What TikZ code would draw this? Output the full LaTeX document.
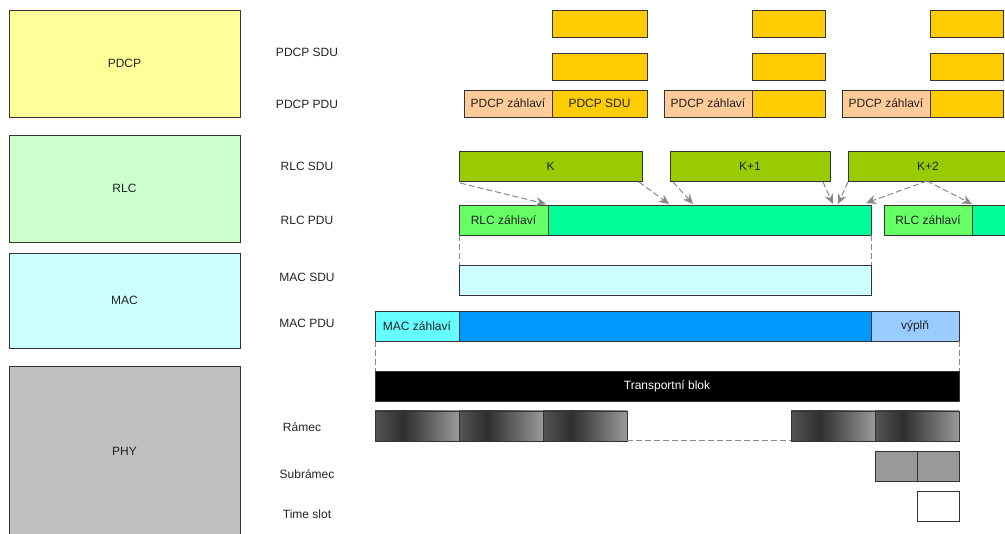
\documentclass[tikz,border=0pt]{standalone}
\usepackage{fontspec}
\setmainfont{Liberation Sans}
\usetikzlibrary{arrows.meta}
\definecolor{cpdcp}{HTML}{FFFF99}
\definecolor{crlc}{HTML}{CCFFCC}
\definecolor{cmac}{HTML}{CCFFFF}
\definecolor{cphy}{HTML}{C0C0C0}
\definecolor{corange}{HTML}{FFCC00}
\definecolor{cpeach}{HTML}{FFCC99}
\definecolor{cgreen}{HTML}{99CC00}
\definecolor{clgreen}{HTML}{66FF66}
\definecolor{cmint}{HTML}{00FF99}
\definecolor{ccyan}{HTML}{66FFFF}
\definecolor{cblue}{HTML}{0099FF}
\definecolor{clblue}{HTML}{99CCFF}
\definecolor{csub}{HTML}{999999}
\definecolor{cborder}{HTML}{333333}
\definecolor{ctext}{HTML}{222222}
\definecolor{cdash}{HTML}{888888}
\definecolor{gA}{HTML}{555555}
\definecolor{gB}{HTML}{2E2E2E}
\definecolor{gC}{HTML}{9A9A9A}
\pgfdeclarehorizontalshading{ramec}{100bp}{color(0bp)=(gA); color(25bp)=(gA); color(42bp)=(gB); color(75bp)=(gC); color(100bp)=(gC)}
\tikzset{
  box/.style={draw=cborder, line width=0.8pt, anchor=north west, inner sep=0pt, outer sep=0pt, text=ctext, font=\fontsize{12}{14}\selectfont},
  lbl/.style={text=ctext, font=\fontsize{12}{14}\selectfont, inner sep=0pt},
  dsh/.style={draw=cdash, line width=1pt, dash pattern=on 6pt off 3pt},
  darr/.style={dsh, -{Stealth[length=10pt,width=9pt]}, shorten >=0pt},
  fr/.style={box, shading=ramec, minimum width=84pt, minimum height=30pt}
}
\begin{document}
\begin{tikzpicture}[x=1pt,y=-1pt]
\useasboundingbox (0,0) rectangle (1005,534);
% layer boxes
\node[box, fill=cpdcp, minimum width=231pt, minimum height=107pt] (lpdcp) at (9,10) {PDCP};
\node[box, fill=crlc, minimum width=231pt, minimum height=107pt] (lrlc) at (9,135) {RLC};
\node[box, fill=cmac, minimum width=231pt, minimum height=95pt] (lmac) at (9,253) {MAC};
\node[box, fill=cphy, minimum width=231pt, minimum height=170pt] (lphy) at (9,366) {PHY};
% row labels
\node[lbl] (t1) at (307,52) {PDCP SDU};
\node[lbl] (t2) at (307,104) {PDCP PDU};
\node[lbl] (t3) at (307,166) {RLC SDU};
\node[lbl] (t4) at (307,220) {RLC PDU};
\node[lbl] (t5) at (307,277) {MAC SDU};
\node[lbl] (t6) at (307,323) {MAC PDU};
\node[lbl] (t7) at (302,427) {Rámec};
\node[lbl] (t8) at (307,474) {Subrámec};
\node[lbl] (t9) at (307,514) {Time slot};
% PDCP rows
\node[box, fill=corange, minimum width=95pt, minimum height=27pt] (a1) at (552,10) {};
\node[box, fill=corange, minimum width=73pt, minimum height=27pt] (a2) at (752,10) {};
\node[box, fill=corange, minimum width=73pt, minimum height=27pt] (a3) at (930,10) {};
\node[box, fill=corange, minimum width=95pt, minimum height=27pt] (b1) at (552,53) {};
\node[box, fill=corange, minimum width=73pt, minimum height=27pt] (b2) at (752,53) {};
\node[box, fill=corange, minimum width=73pt, minimum height=27pt] (b3) at (930,53) {};
\node[box, fill=cpeach, minimum width=88pt, minimum height=27pt] (h1) at (464,90) {PDCP záhlaví};
\node[box, fill=corange, minimum width=95pt, minimum height=27pt] (c1) at (552,90) {PDCP SDU};
\node[box, fill=cpeach, minimum width=88pt, minimum height=27pt] (h2) at (664,90) {PDCP záhlaví};
\node[box, fill=corange, minimum width=73pt, minimum height=27pt] (c2) at (752,90) {};
\node[box, fill=cpeach, minimum width=88pt, minimum height=27pt] (h3) at (842,90) {PDCP záhlaví};
\node[box, fill=corange, minimum width=73pt, minimum height=27pt] (c3) at (930,90) {};
% RLC SDU
\node[box, fill=cgreen, minimum width=183pt, minimum height=30pt] (k0) at (459,151) {K};
\node[box, fill=cgreen, minimum width=160pt, minimum height=30pt] (k1) at (670,151) {K+1};
\node[box, fill=cgreen, minimum width=160pt, minimum height=30pt] (k2) at (848,151) {K+2};
% RLC PDU
\node[box, fill=clgreen, minimum width=89pt, minimum height=30pt] (rh1) at (459,205) {RLC záhlaví};
\node[box, fill=cmint, minimum width=323pt, minimum height=30pt] (rb1) at (548,205) {};
\node[box, fill=clgreen, minimum width=88pt, minimum height=30pt] (rh2) at (884,205) {RLC záhlaví};
\node[box, fill=cmint, minimum width=40pt, minimum height=30pt] (rb2) at (972,205) {};
% arrows
\coordinate (e1) at (546,204);
\coordinate (e2) at (669,204);
\coordinate (e3) at (693,204);
\coordinate (e4) at (833,204);
\coordinate (e5) at (838,204);
\coordinate (e6) at (866,203);
\coordinate (e7) at (972,204);
\coordinate (s1) at (460,183);
\coordinate (s2) at (639,182);
\coordinate (s3) at (673,182);
\coordinate (s4) at (823,182);
\coordinate (s5) at (848,182);
\coordinate (s6) at (927,181);
\draw[darr] (s1) -- (e1);
\draw[darr] (s2) -- (e2);
\draw[darr] (s3) -- (e3);
\draw[darr] (s4) -- (e4);
\draw[darr] (s5) -- (e5);
\draw[darr] (s6) -- (e6);
\draw[darr] (s6) -- (e7);
% MAC SDU
\node[box, fill=cmac, minimum width=412pt, minimum height=30pt] (msdu) at (459,265) {};
\draw[dsh] (rh1.south west) -- (msdu.north west);
\draw[dsh] (rb1.south east) -- (msdu.north east);
% MAC PDU
\node[box, fill=ccyan, minimum width=84pt, minimum height=30pt] (mh) at (375,311) {MAC záhlaví};
\node[box, fill=cblue, minimum width=412pt, minimum height=30pt] (mb) at (459,311) {};
\node[box, fill=clblue, minimum width=88pt, minimum height=30pt] (mp) at (871,311) {výplň};
% Transport block
\node[box, fill=black, text=white, minimum width=584pt, minimum height=30pt] (tb) at (375,371) {Transportní blok};
\draw[dsh] (mh.south west) -- (tb.north west);
\draw[dsh] (mp.south east) -- (tb.north east);
% Frames
\node[fr] (f1) at (375,411) {};
\node[fr] (f2) at (459,411) {};
\node[fr] (f3) at (543,411) {};
\node[fr] (f4) at (791,411) {};
\node[fr] (f5) at (875,411) {};
\draw[dsh] (f3.south east) -- (f4.south west);
% Subframes
\node[box, fill=csub, minimum width=42pt, minimum height=30pt] (sf1) at (875,451) {};
\node[box, fill=csub, minimum width=42pt, minimum height=30pt] (sf2) at (917,451) {};
% Time slot
\node[box, fill=white, minimum width=42pt, minimum height=30pt] (ts) at (917,491) {};
\end{tikzpicture}
\end{document}
